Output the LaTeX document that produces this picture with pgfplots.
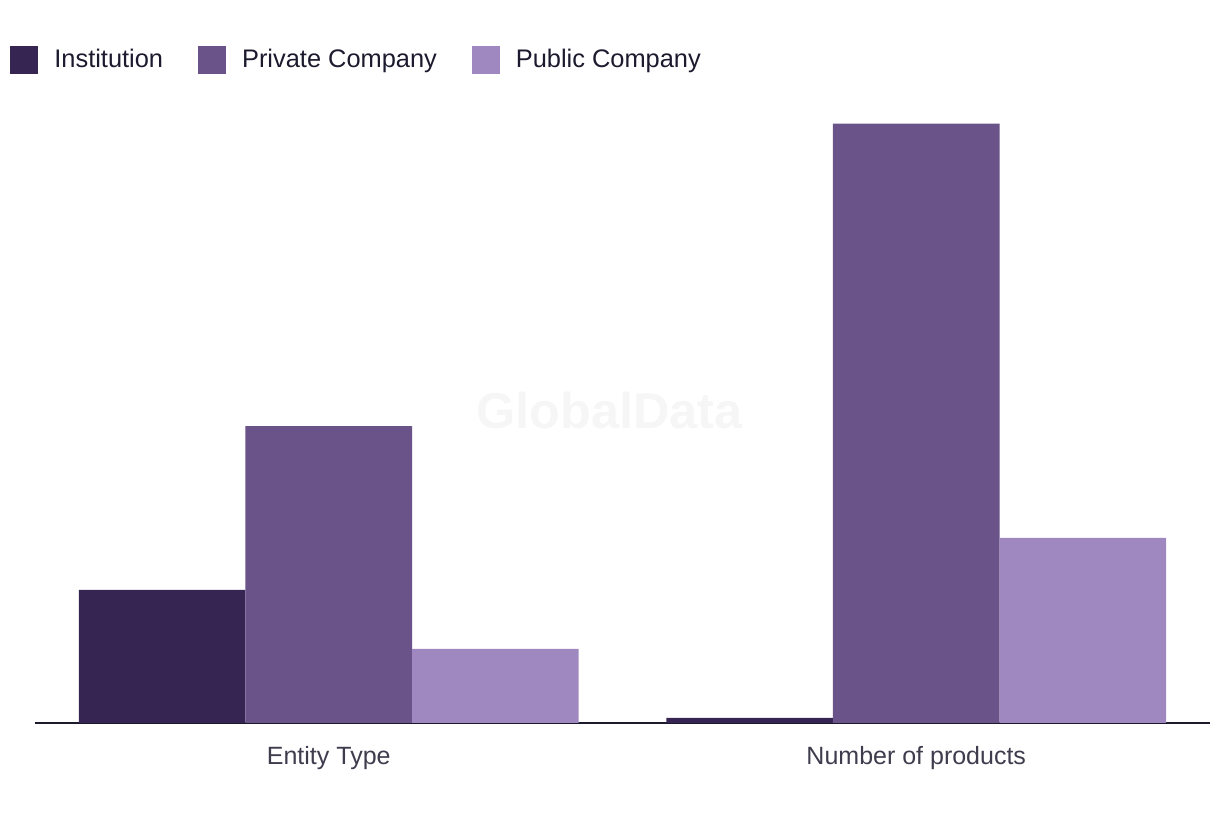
\documentclass[border=0pt]{standalone}
\usepackage{fontspec}
\setmainfont{Liberation Sans}
\usepackage{pgfplots}
\pgfplotsset{compat=1.18}

\definecolor{inst}{HTML}{362552}
\definecolor{priv}{HTML}{695389}
\definecolor{pub}{HTML}{9F88C0}
\definecolor{ink}{HTML}{1C1A2E}

\begin{document}
\begin{tikzpicture}
  \begin{axis}[
      name=ax,
      scale only axis,
      width=587.5pt,
      height=310.8pt,
      xmin=-0.5, xmax=1.5,
      ymin=0, ymax=42,
      axis x line=bottom,
      axis y line=none,
      x axis line style={-, line width=1pt, color=ink},
      xtick={0,1},
      xticklabels={Entity Type, Number of products},
      xtick style={draw=none},
      xticklabel style={font=\fontsize{12.5}{14}\selectfont, text=ink!85, yshift=-4pt},
      ytick=\empty,
      ybar,
      bar width=0.2836,
      legend columns=3,
      legend style={
          at={(axis description cs:-0.0213,1.0907)},
          anchor=north west,
          draw=none, fill=none,
          inner sep=0pt,
          font=\fontsize{12.7}{14}\selectfont,
          text=ink,
          /tikz/every odd column/.append style={column sep=6pt},
          /tikz/every even column/.append style={column sep=15.5pt},
      },
      legend image code/.code={\fill[#1,draw=none] (0pt,-7pt) rectangle (14pt,7pt);},
      clip=false,
  ]
    \addplot[fill=inst, draw=none, bar shift=-0.2836] coordinates {(0,9.0) (1,0.35)};
    \addplot[fill=priv, draw=none, bar shift=0] coordinates {(0,20.05) (1,40.5)};
    \addplot[fill=pub, draw=none, bar shift=0.2836] coordinates {(0,5.0) (1,12.5)};
    \legend{Institution, Private Company, Public Company}
    \node[text=black!3.5, font=\bfseries\fontsize{25.2}{28}\selectfont] at (axis description cs:0.489,0.503) {GlobalData};
  \end{axis}
  \path (ax.south west) ++(-17.5pt,-48.5pt) coordinate (bbl);
  \path (ax.north east) ++(5pt,50.7pt) coordinate (btr);
  \path[use as bounding box] (bbl) rectangle (btr);
\end{tikzpicture}
\end{document}
